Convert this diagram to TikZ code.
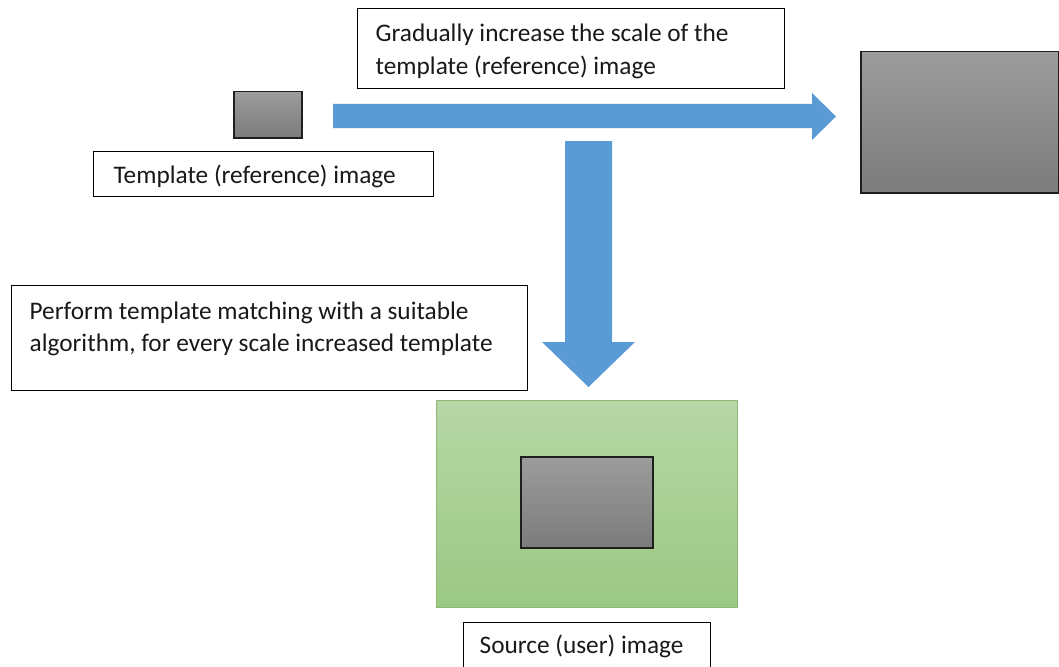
\documentclass[tikz,border=0pt]{standalone}
\usepackage{fontspec}
\setmainfont{Carlito}

\definecolor{arrowblue}{RGB}{91,155,213}
\definecolor{grayTop}{RGB}{156,156,156}
\definecolor{grayBot}{RGB}{124,124,124}
\definecolor{greenTop}{RGB}{183,215,166}
\definecolor{greenBot}{RGB}{155,200,132}
\definecolor{greenEdge}{RGB}{140,185,118}

% text placed in a fixed-size box: width, height, left pad, top pad, text
\newcommand\padtext[5]{%
  \parbox[c][#2][t]{#1}{\raggedright\leftskip=#3\relax\vspace*{#4}\strut#5}}

\tikzset{
  labelbox/.style={draw=black, line width=1.3pt, fill=white, inner sep=0pt,
    anchor=north west, text=black!90, font=\fontsize{25.3}{32.5}\selectfont},
  imgbox/.style={draw=black!88, line width=1.5pt, top color=grayTop,
    bottom color=grayBot, inner sep=0pt, anchor=north west},
  sourcebox/.style={draw=greenEdge, line width=0.8pt, top color=greenTop,
    bottom color=greenBot, inner sep=0pt, anchor=north west},
  blockarrow/.style={fill=arrowblue, draw=none}
}

\begin{document}
\begin{tikzpicture}[x=1pt,y=-1pt]
\clip (0,0) rectangle (1059,666);
\fill[white] (0,0) rectangle (1059,666);

% template image and its scaled-up version
\node[imgbox, minimum width=68pt, minimum height=46pt] (tmplSmall) at (233,91) {};
\node[imgbox, minimum width=198pt, minimum height=141pt] (tmplLarge) at (860,51) {};

% source image with the matched region
\node[sourcebox, minimum width=301pt, minimum height=207pt] (source) at (436,400) {};
\node[imgbox, minimum width=132pt, minimum height=91pt] (match) at (520,456) {};

% block arrows
\draw[blockarrow] (333,104) -- (812,104) -- (812,93) -- (836,116.5)
  -- (812,140) -- (812,128) -- (333,128) -- cycle;
\draw[blockarrow] (565,141) -- (612,141) -- (612,342) -- (635,342)
  -- (588.5,387) -- (542,342) -- (565,342) -- cycle;

% captions
\node[labelbox] (scaleText) at (357,8)
  {\padtext{427pt}{80pt}{18pt}{10.6pt}{Gradually increase the scale of the\\template (reference) image}};
\node[labelbox] (tmplText) at (93,151)
  {\padtext{340pt}{45pt}{20pt}{8.6pt}{Template (reference) image}};
\node[labelbox] (matchText) at (11,285)
  {\padtext{516pt}{105pt}{18pt}{10.6pt}{Perform template matching with a suitable\\algorithm, for every scale increased template}};
\node[labelbox] (sourceText) at (463,622)
  {\padtext{247pt}{60pt}{16pt}{7.6pt}{Source (user) image}};
\end{tikzpicture}
\end{document}
